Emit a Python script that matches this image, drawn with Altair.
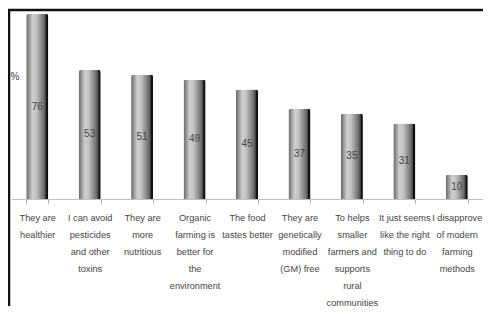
import altair as alt
import pandas as pd

categories = [
    "They are|healthier",
    "I can avoid|pesticides|and other|toxins",
    "They are|more|nutritious",
    "Organic|farming is|better for|the|environment",
    "The food|tastes better",
    "They are|genetically|modified|(GM) free",
    "To helps|smaller|farmers and|supports|rural|communities",
    "It just seems|like the right|thing to do",
    "I disapprove|of modern|farming|methods",
]
values = [76, 53, 51, 49, 45, 37, 35, 31, 10]
y_title = "%"

df = pd.DataFrame({"cat": categories, "val": values})
df["mid"] = df["val"] / 2

W, H = 472, 185
FONT = "Liberation Sans, Arial, sans-serif"

xenc = alt.X(
    "cat:N",
    sort=categories,
    scale=alt.Scale(paddingInner=0.58, paddingOuter=0.29),
    axis=alt.Axis(
        title=None,
        labelAngle=0,
        labelExpr="split(datum.label, '|')",
        tickBand="extent",
        tickSize=4,
        tickColor="#aaaaaa",
        domainColor="#c0c0c0",
        labelPadding=10,
        labelBaseline="top",
        labelLineHeight=17,
        labelFont=FONT,
        labelFontSize=9.2,
        labelColor="#444444",
        labelLimit=0,
        labelOverlap=False,
    ),
)
yscale = alt.Scale(domain=[0, 76], nice=False)

grad = alt.Gradient(
    gradient="linear",
    x1=0, x2=1, y1=0, y2=0,
    stops=[
        alt.GradientStop(offset=0, color="#666666"),
        alt.GradientStop(offset=0.28, color="#cfcfcf"),
        alt.GradientStop(offset=0.45, color="#c4c4c4"),
        alt.GradientStop(offset=0.8, color="#6e6e6e"),
        alt.GradientStop(offset=0.9, color="#3a3a3a"),
        alt.GradientStop(offset=0.91, color="#111111"),
        alt.GradientStop(offset=1, color="#111111"),
    ],
)

base = alt.Chart(df)
bars = base.mark_bar(color=grad, cornerRadiusTopLeft=2, cornerRadiusTopRight=2).encode(
    x=xenc,
    y=alt.Y("val:Q", scale=yscale, axis=None),
)
labels = base.mark_text(font=FONT, fontSize=10, color="#444444").encode(
    x=alt.X("cat:N", sort=categories),
    y=alt.Y("mid:Q", scale=yscale),
    text=alt.Text("val:Q"),
)

one = alt.Chart(alt.Data(values=[{}]))
pct = one.mark_text(font=FONT, fontSize=10, color="#444444", align="center").encode(
    x=alt.value(4), y=alt.value(63), text=alt.value(y_title)
)
top_line = one.mark_rule(color="#111111", strokeWidth=2.5).encode(
    x=alt.value(-3), x2=alt.value(472), y=alt.value(-4)
)
left_line = one.mark_rule(color="#111111", strokeWidth=2.5).encode(
    x=alt.value(-2), y=alt.value(-4), y2=alt.value(300)
)

chart = alt.layer(bars, labels, pct, top_line, left_line).properties(
    width=W,
    height=H,
    autosize=alt.AutoSizeParams(type="none"),
    padding={"left": 3, "top": 6, "right": 0, "bottom": 107},
    background="white",
).configure_view(stroke=None)

chart.save("out.html", embed_options={"renderer": "svg", "actions": False})
